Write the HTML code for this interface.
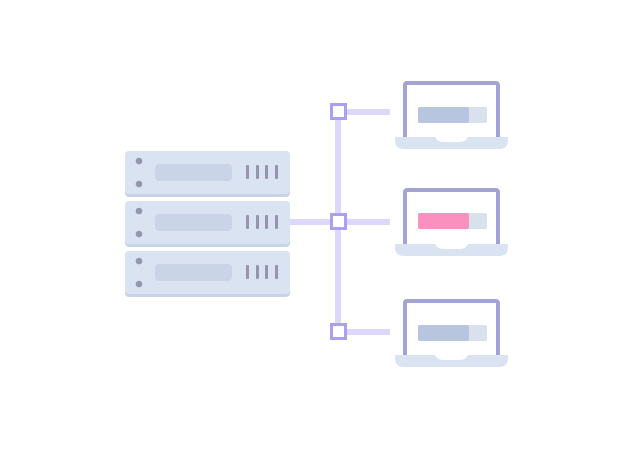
<!DOCTYPE html>
<html><head><meta charset="utf-8"><style>html,body{margin:0;padding:0;background:#fff;width:640px;height:450px;overflow:hidden}</style></head>
<body>
<svg width="640" height="450" viewBox="0 0 640 450" xmlns="http://www.w3.org/2000/svg">
<defs>
<g id="srv">
<rect x="125" y="0" width="165" height="46" rx="4" fill="#c9d3e6"/>
<rect x="125" y="0" width="165" height="43" rx="4" fill="#dae3f1"/>
<circle cx="139" cy="10" r="3.3" fill="#9595ad"/>
<circle cx="139" cy="33" r="3.3" fill="#9595ad"/>
<rect x="155" y="13" width="77" height="17" rx="4" fill="#c9d4e6"/>
<rect x="246" y="14" width="3" height="14" rx="1" fill="#9595ad"/>
<rect x="256" y="14" width="3" height="14" rx="1" fill="#9595ad"/>
<rect x="265" y="14" width="3" height="14" rx="1" fill="#9595ad"/>
<rect x="275" y="14" width="3" height="14" rx="1" fill="#9595ad"/>
</g>
<g id="lap">
<rect x="405" y="1" width="93" height="56" rx="2" fill="#fff" stroke="#a3a3d3" stroke-width="4"/>
<path d="M395 55 H508 V58 Q508 67 499 67 H404 Q395 67 395 58 Z" fill="#dae3f1"/>
<path d="M435 55 H468 Q466 60 459 60 H444 Q437 60 435 55 Z" fill="#fff"/>
</g>
</defs>
<use href="#srv" y="151"/>
<use href="#srv" y="201"/>
<use href="#srv" y="251"/>
<!-- connectors -->
<rect x="335" y="118" width="6" height="208" fill="#dcd7fb"/>
<rect x="290" y="219" width="100" height="6" fill="#dcd7fb"/>
<rect x="346" y="109" width="44" height="6" fill="#dcd7fb"/>
<rect x="346" y="329" width="44" height="6" fill="#dcd7fb"/>
<rect x="331.5" y="104.5" width="14" height="14" fill="#fff" stroke="#a99ff5" stroke-width="3"/>
<rect x="331.5" y="214.5" width="14" height="14" fill="#fff" stroke="#a99ff5" stroke-width="3"/>
<rect x="331.5" y="324.5" width="14" height="14" fill="#fff" stroke="#a99ff5" stroke-width="3"/>
<!-- laptops -->
<use href="#lap" y="82"/>
<rect x="418" y="107" width="69" height="16" rx="2" fill="#d9e1ec"/>
<rect x="418" y="107" width="51" height="16" rx="2" fill="#b8c5df"/>
<use href="#lap" y="189"/>
<rect x="418" y="213" width="69" height="16" rx="2" fill="#d9e1ec"/>
<rect x="418" y="213" width="51" height="16" rx="2" fill="#fa90bd"/>
<use href="#lap" y="300"/>
<rect x="418" y="325" width="69" height="16" rx="2" fill="#d9e1ec"/>
<rect x="418" y="325" width="51" height="16" rx="2" fill="#b8c5df"/>
</svg>
</body></html>
